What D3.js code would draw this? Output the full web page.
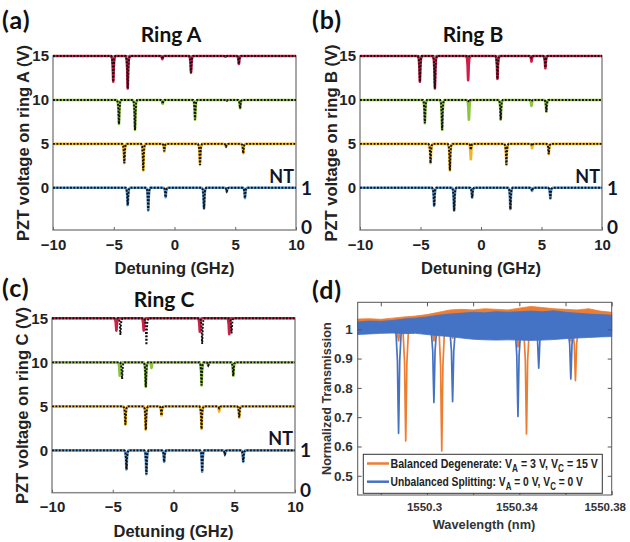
<!DOCTYPE html>
<html><head><meta charset="utf-8">
<script src="https://cdn.jsdelivr.net/npm/d3@7"></script>
<style>body{margin:0;background:#fff} svg{display:block}</style>
</head><body>
<script>
// ---------------- DATA ----------------
const detuningTicks = [-10, -5, 0, 5, 10];
const voltageTicks = [0, 5, 10, 15];
const voltages = [0, 5, 10, 15];
const ntTicks = [0, 1];

// dips: [detuning GHz, minimum normalized transmission]; one list per PZT voltage (0,5,10,15 V)
const ringA_fit = [
  [[-3.85,0.56],[-2.16,0.43],[-0.73,0.76],[2.43,0.47],[4.3,0.91],[5.8,0.74]],
  [[-4.13,0.51],[-2.57,0.33],[-0.84,0.81],[2.1,0.47],[4.24,0.93],[5.66,0.76]],
  [[-4.57,0.39],[-3.25,0.24],[-0.97,0.9],[1.69,0.5],[4.3,0.98],[5.4,0.79]],
  [[-5.04,0.35],[-3.85,0.18],[-1.0,0.92],[1.36,0.58],[4.2,0.98],[5.3,0.8]]
];
const ringA_meas = ringA_fit;

const ringB_fit = [
  [[-3.87,0.54],[-2.22,0.42],[-0.73,0.75],[2.43,0.46],[4.22,0.92],[5.73,0.73]],
  [[-4.17,0.51],[-2.57,0.33],[-0.84,0.85],[2.1,0.47],[4.22,0.95],[5.6,0.74]],
  [[-4.64,0.41],[-3.21,0.24],[-1.0,0.95],[1.63,0.5],[4.17,0.97],[5.4,0.7]],
  [[-5.05,0.35],[-3.81,0.18],[-1.06,0.97],[1.36,0.42],[4.17,0.95],[5.32,0.71]]
];
const ringB_meas = [
  [[-3.87,0.54],[-2.22,0.42],[-0.73,0.75],[2.43,0.46],[4.22,0.92],[5.73,0.73]],
  [[-4.17,0.51],[-2.57,0.33],[-0.84,0.61],[2.1,0.47],[4.22,0.89],[5.6,0.74]],
  [[-4.64,0.41],[-3.21,0.24],[-1.0,0.5],[1.63,0.5],[4.17,0.85],[5.4,0.7]],
  [[-5.05,0.35],[-3.81,0.18],[-1.06,0.39],[1.36,0.42],[4.17,0.86],[5.32,0.69]]
];

const ringC_fit = [
  [[-3.87,0.52],[-2.23,0.4],[-0.77,0.71],[2.36,0.46],[4.23,0.9],[5.74,0.71]],
  [[-3.96,0.54],[-2.28,0.41],[-0.99,0.77],[2.31,0.43],[3.76,0.95],[5.41,0.72]],
  [[-4.23,0.58],[-2.28,0.38],[2.31,0.42],[2.86,0.92],[4.92,0.66]],
  [[-4.37,0.58],[-2.23,0.33],[2.36,0.35],[4.78,0.62]]
];
const ringC_meas = [
  [[-3.87,0.52],[-2.23,0.4],[-0.77,0.71],[2.36,0.46],[4.23,0.9],[5.74,0.71]],
  [[-3.96,0.54],[-2.28,0.41],[-0.99,0.77],[2.31,0.43],[3.76,0.87],[5.41,0.72]],
  [[-4.42,0.66],[-2.28,0.38],[-1.81,0.86],[2.31,0.42],[2.86,0.92],[4.92,0.66]],
  [[-4.7,0.69],[-2.45,0.69],[2.17,0.66],[4.59,0.6]]
];

// panel (d)
const wlTicks = [1550.28, 1550.30, 1550.32, 1550.34, 1550.36, 1550.38];
const wlTickLabels = ["", "1550.3", "", "1550.34", "", "1550.38"];
const transTicks = [0.5, 0.6, 0.7, 0.8, 0.9, 1];
const transTickLabels = ["0.5", "0.6", "0.7", "0.8", "0.9", "1"];
const envWavelength = [1550.270,1550.275,1550.280,1550.285,1550.290,1550.295,1550.300,1550.305,1550.310,1550.315,1550.320,1550.325,1550.330,1550.335,1550.340,1550.345,1550.350,1550.355,1550.360,1550.365,1550.370,1550.375,1550.380];
const unbalancedHi = [1.025,1.028,1.027,1.030,1.035,1.038,1.042,1.048,1.052,1.055,1.058,1.056,1.060,1.058,1.060,1.062,1.060,1.063,1.058,1.055,1.052,1.050,1.048];
const unbalancedLo = [0.982,0.984,0.986,0.987,0.985,0.986,0.982,0.978,0.975,0.970,0.966,0.964,0.963,0.964,0.963,0.962,0.963,0.965,0.968,0.970,0.972,0.974,0.975];
const balancedHi = [1.035,1.036,1.034,1.038,1.042,1.045,1.050,1.058,1.066,1.068,1.066,1.070,1.068,1.066,1.072,1.078,1.074,1.070,1.068,1.066,1.070,1.062,1.058];
const balancedLo = [0.995,0.997,0.998,0.999,0.998,0.998,0.995,0.992,0.990,0.985,0.980,0.978,0.978,0.978,0.978,0.977,0.978,0.980,0.982,0.985,0.986,0.988,0.990];
const unbalancedDips = [[1550.2877,0.645],[1550.3030,0.75],[1550.3111,0.753],[1550.3394,0.702],[1550.3484,0.867],[1550.3623,0.83]];
const balancedDips = [[1550.2877,0.96],[1550.2908,0.619],[1550.3030,0.96],[1550.3064,0.585],[1550.3111,0.97],[1550.3394,0.94],[1550.3431,0.643],[1550.3623,0.96],[1550.3643,0.825]];
const legendLabels = ["Balanced Degenerate", "Unbalanced Splitting"];

// ---------------- STYLE ----------------
const traceColors = ["#5B9BD5", "#F2B425", "#8DC43E", "#CF1D46"];
const orange = "#ED7D31", blue = "#4472C4";
const NT_SCALE = 4.5;
const DIP_PROFILE = [[-0.17,0],[-0.09,0.1],[-0.045,0.4],[-0.015,0.88],[0,1],[0.015,0.88],[0.045,0.4],[0.09,0.1],[0.17,0]];
const DIP_PROFILE_D = [[-0.0012,0],[-0.0005,0.3],[-0.0002,0.75],[0,1],[0.0002,0.75],[0.0005,0.3],[0.0012,0]];
const sans = "'Liberation Sans', Arial, sans-serif";
const lato = "Lato, 'Open Sans', sans-serif";

const svg = d3.select("body").append("svg").attr("width", 630).attr("height", 542);

function traceRows(dips, V) {
  const pts = [[-10, V]];
  dips.slice().sort((a, b) => a[0] - b[0]).forEach(([c, t]) => {
    DIP_PROFILE.forEach(([dx, f]) => pts.push([c + dx, V - (1 - t) * NT_SCALE * f]));
  });
  pts.push([10, V]);
  return pts;
}

function ringPanel(o) {
  const g = svg.append("g");
  const x = d3.scaleLinear().domain([-10, 10]).range([o.x0, o.x1]);
  const y = d3.scaleLinear().domain([-4.8, 15]).range([o.bottom, o.top]);
  const nt = d3.scaleLinear().domain([0, 1]).range([y(-NT_SCALE), y(0)]);

  g.append("rect").attr("x", o.x0).attr("y", o.top).attr("width", o.x1 - o.x0).attr("height", o.bottom - o.top)
    .attr("fill", "none").attr("stroke", "#8a8a8a").attr("stroke-width", 1.5);

  const xa = g.append("g").attr("transform", `translate(0,${o.bottom})`)
    .call(d3.axisBottom(x).tickValues(detuningTicks).tickSizeInner(-3).tickSizeOuter(0).tickPadding(9).tickFormat(d3.format("d")));
  xa.select(".domain").remove();
  xa.selectAll("line").attr("stroke", "#666");
  xa.selectAll("text").attr("font-family", sans).attr("font-weight", "bold").attr("font-size", 15).attr("fill", "#222");

  const ya = g.append("g").attr("transform", `translate(${o.x0},0)`)
    .call(d3.axisLeft(y).tickValues(voltageTicks).tickSizeInner(-3).tickSizeOuter(0).tickPadding(4));
  ya.select(".domain").remove();
  ya.selectAll("line").attr("stroke", "#666");
  ya.selectAll("text").attr("font-family", sans).attr("font-weight", "bold").attr("font-size", 15).attr("fill", "#222");

  const line = d3.line().x(d => x(d[0])).y(d => y(d[1]));
  voltages.forEach((V, i) => {
    g.append("path").attr("d", line(traceRows(o.meas[i], V))).attr("fill", "none")
      .attr("stroke", traceColors[i]).attr("stroke-width", 2.6).attr("stroke-linejoin", "round");
    g.append("path").attr("d", line(traceRows(o.fit[i], V))).attr("fill", "none")
      .attr("stroke", "#111").attr("stroke-width", 1.9).attr("stroke-dasharray", "1.9 1.5");
  });

  ntTicks.forEach(t => {
    g.append("text").attr("x", o.x1 + 5).attr("y", nt(t) + 7).text(t)
      .attr("font-family", lato).attr("font-weight", "bold").attr("font-size", 19).attr("fill", "#141428");
  });
  g.append("text").attr("x", o.x1 - 2).attr("y", y(0) - 5).attr("text-anchor", "end").text("NT")
    .attr("font-family", lato).attr("font-weight", "bold").attr("font-size", 18).attr("fill", "#141428");

  g.append("text").attr("x", o.titleX).attr("y", o.titleY).attr("text-anchor", "middle").text(o.title)
    .attr("font-family", lato).attr("font-weight", "bold").attr("font-size", 21).attr("fill", "#111");
  g.append("text").attr("x", o.label[0]).attr("y", o.label[1]).text(o.labelText)
    .attr("font-family", lato).attr("font-weight", "bold").attr("font-size", 25).attr("letter-spacing", 1).attr("fill", "#111");
  g.append("text").attr("transform", `translate(${o.ylabX},${(o.top + o.bottom) / 2}) rotate(-90)`)
    .attr("text-anchor", "middle").text(o.ylab)
    .attr("font-family", sans).attr("font-weight", "bold").attr("font-size", 16.5).attr("fill", "#222");
  g.append("text").attr("x", (o.x0 + o.x1) / 2).attr("y", o.bottom + 44).attr("text-anchor", "middle").text("Detuning (GHz)")
    .attr("font-family", sans).attr("font-weight", "bold").attr("font-size", 16.5).attr("fill", "#222");
}

ringPanel({x0: 53, x1: 296, top: 56, bottom: 230, fit: ringA_fit, meas: ringA_meas, title: "Ring A", titleX: 171, titleY: 42,
  labelText: "(a)", label: [2, 29], ylab: "PZT voltage on ring A (V)", ylabX: 29});
ringPanel({x0: 360, x1: 602, top: 56, bottom: 230, fit: ringB_fit, meas: ringB_meas, title: "Ring B", titleX: 473, titleY: 42,
  labelText: "(b)", label: [312, 29], ylab: "PZT voltage on ring B (V)", ylabX: 337});
ringPanel({x0: 52, x1: 295, top: 318.3, bottom: 492.7, fit: ringC_fit, meas: ringC_meas, title: "Ring C", titleX: 164, titleY: 307,
  labelText: "(c)", label: [2, 297], ylab: "PZT voltage on ring C (V)", ylabX: 27.5});

// ---------------- PANEL (d) ----------------
(function () {
  const x0 = 357.7, x1 = 611.7, top = 302.3, bottom = 495;
  const g = svg.append("g");
  const x = d3.scaleLinear().domain([1550.27, 1550.38]).range([x0, x1]);
  const y = d3.scaleLinear().domain([0.4345, 1.092]).range([bottom, top]);

  const area = d3.area().x(d => x(d[0])).y0(d => y(d[1])).y1(d => y(d[2]));
  const line = d3.line().x(d => x(d[0])).y(d => y(d[1]));
  function series(hi, lo, dips, color) {
    g.append("path").attr("d", area(envWavelength.map((w, i) => [w, lo[i], hi[i]])))
      .attr("fill", color).attr("stroke", color).attr("stroke-width", 0.8);
    dips.forEach(([c, m]) => {
      const pts = DIP_PROFILE_D.map(([dx, f]) => [c + dx, 1 - (1 - m) * f]);
      g.append("path").attr("d", line(pts)).attr("fill", "none").attr("stroke", color)
        .attr("stroke-width", 1.7).attr("stroke-linejoin", "round");
    });
  }
  series(balancedHi, balancedLo, balancedDips, orange);
  series(unbalancedHi, unbalancedLo, unbalancedDips, blue);

  g.append("rect").attr("x", x0).attr("y", top).attr("width", x1 - x0).attr("height", bottom - top)
    .attr("fill", "none").attr("stroke", "#555").attr("stroke-width", 1);
  const xa = g.append("g").attr("transform", `translate(0,${bottom})`)
    .call(d3.axisBottom(x).tickValues(wlTicks).tickSizeInner(-4).tickSizeOuter(0).tickPadding(8).tickFormat((d, i) => wlTickLabels[i]));
  xa.select(".domain").remove();
  xa.selectAll("line").attr("stroke", "#555");
  xa.selectAll("text").attr("font-family", sans).attr("font-weight", "bold").attr("font-size", 11.5).attr("fill", "#333")
    .attr("dx", (d, i) => i === wlTicks.length - 1 ? -7 : -3);
  const xt = g.append("g").attr("transform", `translate(0,${top})`)
    .call(d3.axisTop(x).tickValues(wlTicks).tickSizeInner(-4).tickSizeOuter(0).tickFormat(""));
  xt.select(".domain").remove(); xt.selectAll("line").attr("stroke", "#555");

  const ya = g.append("g").attr("transform", `translate(${x0},0)`)
    .call(d3.axisLeft(y).tickValues(transTicks).tickSizeInner(-4).tickSizeOuter(0).tickPadding(5).tickFormat((d, i) => transTickLabels[i]));
  ya.select(".domain").remove();
  ya.selectAll("line").attr("stroke", "#555");
  ya.selectAll("text").attr("font-family", sans).attr("font-weight", "bold").attr("font-size", 13.5).attr("fill", "#333");
  const yr = g.append("g").attr("transform", `translate(${x1},0)`)
    .call(d3.axisRight(y).tickValues(transTicks).tickSizeInner(-4).tickSizeOuter(0).tickFormat(""));
  yr.select(".domain").remove(); yr.selectAll("line").attr("stroke", "#555");

  // legend
  const lg = g.append("g");
  lg.append("rect").attr("x", 363.3).attr("y", 454.3).attr("width", 239).attr("height", 39)
    .attr("fill", "#fff").attr("stroke", "#333").attr("stroke-width", 1);
  const entries = [
    {color: orange, label: legendLabels[0], va: "3", vc: "15", y: 463.5},
    {color: blue, label: legendLabels[1], va: "0", vc: "0", y: 481.7}
  ];
  entries.forEach(e => {
    lg.append("line").attr("x1", 367).attr("x2", 389).attr("y1", e.y).attr("y2", e.y)
      .attr("stroke", e.color).attr("stroke-width", 2.5);
    const t = lg.append("text").attr("x", 0).attr("y", 0)
      .attr("font-family", sans).attr("font-weight", "bold").attr("font-size", 13).attr("fill", "#222");
    t.append("tspan").text(e.label + ": V");
    t.append("tspan").attr("dy", 4).attr("font-size", 10).text("A");
    t.append("tspan").attr("dy", -4).text(` = ${e.va} V, V`);
    t.append("tspan").attr("dy", 4).attr("font-size", 10).text("C");
    t.append("tspan").attr("dy", -4).text(` = ${e.vc} V`);
    const target = e === entries[0] ? 208 : 193;
    const w = t.node().getBBox().width || target;
    const k = Math.min(1, target / w);
    t.attr("transform", `translate(390.5,${e.y + 4.5}) scale(${k},1)`);
  });

  g.append("text").attr("transform", `translate(331,${(top + bottom) / 2}) rotate(-90)`).attr("text-anchor", "middle")
    .text("Normalized Transmission").attr("font-family", sans).attr("font-weight", "bold").attr("font-size", 12.6).attr("fill", "#333");
  g.append("text").attr("x", 484).attr("y", 529).attr("text-anchor", "middle")
    .text("Wavelength (nm)").attr("font-family", sans).attr("font-weight", "bold").attr("font-size", 12.8).attr("fill", "#333");
  g.append("text").attr("x", 312).attr("y", 299).text("(d)")
    .attr("font-family", lato).attr("font-weight", "bold").attr("font-size", 25).attr("letter-spacing", 1).attr("fill", "#111");
})();
</script>
</body></html>
